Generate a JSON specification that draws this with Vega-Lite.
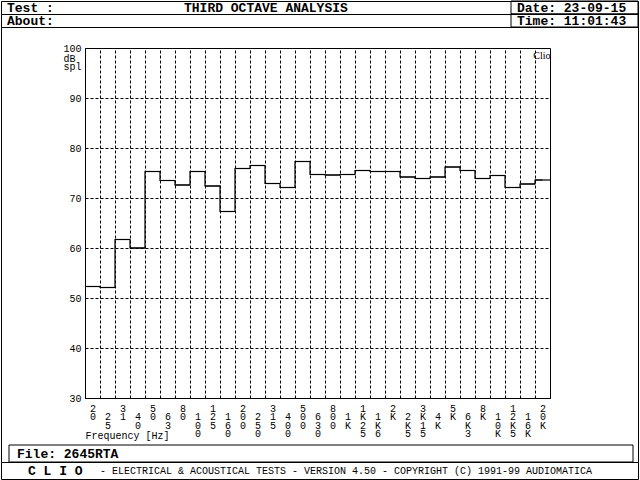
{
  "$schema": "https://vega.github.io/schema/vega-lite/v6.json",
  "background": "white",
  "padding": 0,
  "spacing": 0,
  "bounds": "flush",
  "config": {
    "view": {"stroke": null},
    "font": "Liberation Mono",
    "text": {"color": "black"}
  },
  "vconcat": [
    {
      "width": 637, "height": 13,
      "view": {"stroke": "black", "strokeWidth": 1},
      "resolve": {"scale": {"x": "independent"}},
      "layer": [
        {
          "data": {"values": [{"t": "Test :"}, {"t": "THIRD OCTAVE ANALYSIS"}]},
          "mark": {"type": "text", "align": "left", "baseline": "middle", "font": "Liberation Mono", "fontSize": 13, "fontWeight": "bold"},
          "encoding": {
            "x": {"field": "t", "type": "nominal", "sort": null, "axis": null, "scale": {"type": "point", "padding": 0, "range": [6, 183]}},
            "text": {"field": "t"}
          }
        },
        {
          "data": {"values": [{"t": "Date: 23-09-15"}]},
          "encoding": {
            "x": {"field": "t", "type": "nominal", "bandPosition": 0, "axis": null, "scale": {"type": "band", "paddingInner": 0, "paddingOuter": 0, "range": [510, 637]}}
          },
          "layer": [
            {"mark": {"type": "rect", "fill": null, "stroke": "black", "strokeWidth": 1}},
            {"mark": {"type": "text", "align": "left", "baseline": "middle", "dx": 6, "font": "Liberation Mono", "fontSize": 13, "fontWeight": "bold"}, "encoding": {"text": {"field": "t"}}}
          ]
        }
      ]
    },
    {
      "width": 637, "height": 13,
      "view": {"stroke": "black", "strokeWidth": 1},
      "resolve": {"scale": {"x": "independent"}},
      "layer": [
        {
          "data": {"values": [{"t": "About:"}]},
          "mark": {"type": "text", "align": "left", "baseline": "middle", "font": "Liberation Mono", "fontSize": 13, "fontWeight": "bold"},
          "encoding": {
            "x": {"field": "t", "type": "nominal", "axis": null, "scale": {"type": "point", "padding": 0, "range": [6, 6]}},
            "text": {"field": "t"}
          }
        },
        {
          "data": {"values": [{"t": "Time: 11:01:43"}]},
          "encoding": {
            "x": {"field": "t", "type": "nominal", "bandPosition": 0, "axis": null, "scale": {"type": "band", "paddingInner": 0, "paddingOuter": 0, "range": [510, 637]}}
          },
          "layer": [
            {"mark": {"type": "rect", "fill": null, "stroke": "black", "strokeWidth": 1}},
            {"mark": {"type": "text", "align": "left", "baseline": "middle", "dx": 6, "font": "Liberation Mono", "fontSize": 13, "fontWeight": "bold"}, "encoding": {"text": {"field": "t"}}}
          ]
        }
      ]
    },
    {
      "width": 637, "height": 435,
      "view": {"stroke": "black", "strokeWidth": 1},
      "resolve": {"scale": {"x": "independent", "y": "independent"}},
      "layer": [
        {
          "data": {"values": [
            {"band": "20", "db": 52.3},
            {"band": "25", "db": 52.1},
            {"band": "31", "db": 61.7},
            {"band": "40", "db": 60.0},
            {"band": "50", "db": 75.3},
            {"band": "63", "db": 73.5},
            {"band": "80", "db": 72.6},
            {"band": "100", "db": 75.3},
            {"band": "125", "db": 72.4},
            {"band": "160", "db": 67.3},
            {"band": "200", "db": 75.9},
            {"band": "250", "db": 76.5},
            {"band": "315", "db": 72.9},
            {"band": "400", "db": 72.1},
            {"band": "500", "db": 77.3},
            {"band": "630", "db": 74.7},
            {"band": "800", "db": 74.6},
            {"band": "1K", "db": 74.7},
            {"band": "1K25", "db": 75.5},
            {"band": "1K6", "db": 75.3},
            {"band": "2K", "db": 75.3},
            {"band": "2K5", "db": 74.2},
            {"band": "3K15", "db": 73.9},
            {"band": "4K", "db": 74.2},
            {"band": "5K", "db": 76.2},
            {"band": "6K3", "db": 75.5},
            {"band": "8K", "db": 73.9},
            {"band": "10K", "db": 74.5},
            {"band": "12K5", "db": 72.1},
            {"band": "16K", "db": 72.8},
            {"band": "20K", "db": 73.6}
          ]},
          "resolve": {"axis": {"x": "independent", "y": "independent"}},
          "layer": [
            {
              "mark": {"type": "tick", "orient": "horizontal", "size": 15, "thickness": 1.2, "color": "black", "opacity": 1},
              "encoding": {
                "x": {
                  "field": "band", "type": "nominal", "sort": null,
                  "scale": {"type": "band", "paddingInner": 0, "paddingOuter": 0, "range": [84, 549]},
                  "axis": {
                    "orient": "bottom", "offset": -64,
                    "tickBand": "extent",
                    "grid": false,
                    "ticks": false, "domain": true, "domainColor": "black", "domainWidth": 1,
                    "labelAngle": 0, "labelFont": "Liberation Mono", "labelFontSize": 10, "labelLineHeight": 8.5,
                    "labelBaseline": "top", "labelAlign": "center", "labelPadding": 5, "labelColor": "black", "labelOverlap": false,
                    "labelExpr": "isValid(datum.value) ? split((indexof(['25','40','63','100','160','250','400','630','1K','1K6','2K5','4K','6K3','10K','16K'], datum.value) >= 0 ? ' ' : '') + datum.value, '') : ''",
                    "title": "Frequency [Hz]", "titleFont": "Liberation Mono", "titleFontSize": 10, "titleFontWeight": "normal", "titleColor": "black",
                    "titleAnchor": "start", "titleAlign": "left", "titleBaseline": "top", "titleX": 84, "titleY": 32
                  }
                },
                "y": {
                  "field": "db", "type": "quantitative",
                  "scale": {"domain": [30, 100], "nice": false, "zero": false, "range": [371, 21]},
                  "axis": {
                    "orient": "left", "offset": -84,
                    "values": [30, 40, 50, 60, 70, 80, 90, 100],
                    "grid": true, "gridColor": "black", "gridDash": [3, 2], "gridWidth": 1, "gridOpacity": 1,
                    "ticks": false, "domain": true, "domainColor": "black", "domainWidth": 1,
                    "labelFont": "Liberation Mono", "labelFontSize": 10, "labelPadding": 4, "labelColor": "black",
                    "title": ["dB", "spl"], "titleAngle": 0, "titleX": -22, "titleY": 26, "titleAlign": "left", "titleBaseline": "top",
                    "titleFont": "Liberation Mono", "titleFontSize": 10, "titleFontWeight": "normal", "titleLineHeight": 8, "titleColor": "black"
                  }
                }
              }
            },
            {
              "mark": {"type": "line", "interpolate": "step", "color": "black", "strokeWidth": 1.2},
              "encoding": {
                "x": {
                  "field": "band", "type": "nominal", "sort": null,
                  "axis": {
                    "orient": "top", "offset": -21, "tickBand": "extent",
                    "grid": true, "gridColor": "black", "gridDash": [3, 2], "gridWidth": 1, "gridOpacity": 1,
                    "ticks": false, "labels": false,
                    "domain": true, "domainColor": "black", "domainWidth": 1,
                    "title": "Clio", "titleFont": "Liberation Serif", "titleFontSize": 10, "titleFontWeight": "normal", "titleColor": "black",
                    "titleAlign": "right", "titleBaseline": "alphabetic", "titleX": 549, "titleY": 10
                  }
                },
                "y": {
                  "field": "db", "type": "quantitative",
                  "axis": {
                    "orient": "right", "offset": -88, "grid": false, "ticks": false, "labels": false,
                    "domain": true, "domainColor": "black", "domainWidth": 1, "title": null
                  }
                }
              }
            }
          ]
        },
        {
          "data": {"values": [{"t": "File: 2645RTA"}]},
          "encoding": {
            "x": {"field": "t", "type": "nominal", "bandPosition": 0, "axis": null, "scale": {"type": "band", "paddingInner": 0, "paddingOuter": 0, "range": [8, 632]}},
            "y": {"field": "t", "type": "nominal", "axis": null, "scale": {"type": "band", "paddingInner": 0, "paddingOuter": 0, "range": [418, 435]}}
          },
          "layer": [
            {"mark": {"type": "rect", "fill": null, "stroke": "black", "strokeWidth": 1}},
            {"mark": {"type": "text", "align": "left", "baseline": "middle", "dx": 8, "font": "Liberation Mono", "fontSize": 13, "fontWeight": "bold"}, "encoding": {"text": {"field": "t"}}}
          ]
        }
      ]
    },
    {
      "width": 637, "height": 17,
      "view": {"stroke": "black", "strokeWidth": 1},
      "data": {"values": [{"t": "C L I O"}, {"t": "-  ELECTRICAL & ACOUSTICAL TESTS  -  VERSION 4.50  -  COPYRIGHT (C) 1991-99 AUDIOMATICA"}]},
      "encoding": {
        "x": {"field": "t", "type": "nominal", "sort": null, "axis": null, "scale": {"type": "point", "padding": 0, "range": [27, 99]}},
        "text": {"field": "t"}
      },
      "layer": [
        {
          "transform": [{"filter": "datum.t == 'C L I O'"}],
          "mark": {"type": "text", "align": "left", "baseline": "middle", "font": "Liberation Mono", "fontSize": 13, "fontWeight": "bold"}
        },
        {
          "transform": [{"filter": "datum.t != 'C L I O'"}],
          "mark": {"type": "text", "align": "left", "baseline": "middle", "font": "Liberation Mono", "fontSize": 10}
        }
      ]
    }
  ]
}
